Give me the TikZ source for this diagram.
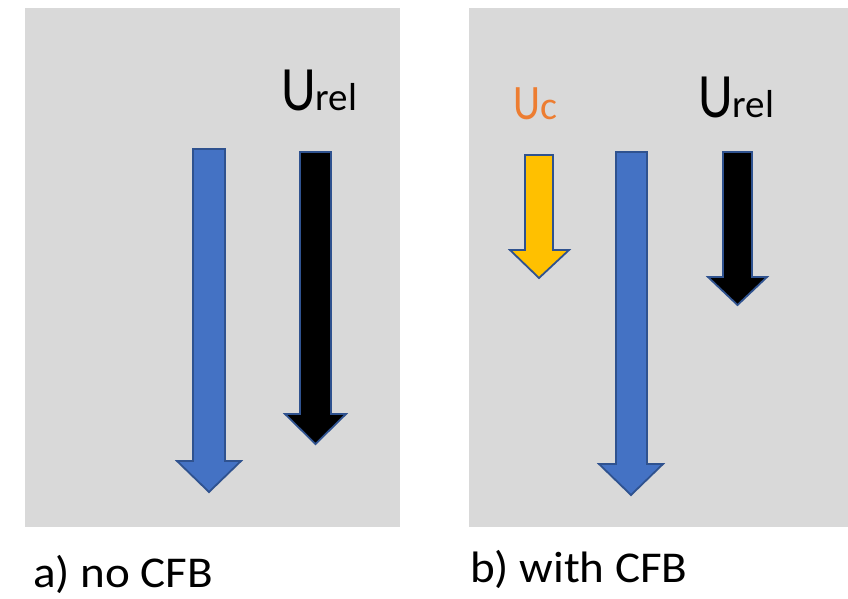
\documentclass[tikz,border=0pt]{standalone}
\usepackage{graphicx}
\usepackage{fontspec}
\setmainfont{Carlito}
\definecolor{panelgray}{HTML}{D9D9D9}
\definecolor{arrblue}{HTML}{4472C4}
\definecolor{arredge}{HTML}{2F528F}
\definecolor{arryellow}{HTML}{FFC000}
\definecolor{txtorange}{HTML}{ED7D31}
\begin{document}
\begin{tikzpicture}[x=1pt,y=-1pt,
  panel/.style={fill=panelgray,draw=none},
  blockarrow/.style={draw=arredge,line width=1.8pt,line join=miter},
  lbl/.style={anchor=base west,inner sep=0pt,outer sep=0pt}]
\useasboundingbox (0,0) rectangle (848,598);
\fill[white] (0,0) rectangle (848,598);
% panels
\path[panel] (25,8) rectangle (400,527);
\path[panel] (469,8) rectangle (848,527);
% panel a arrows
\path[blockarrow,fill=arrblue] (193,149) -- (225,149) -- (225,461) -- (241,461) -- (209,492) -- (177,461) -- (193,461) -- cycle;
\path[blockarrow,fill=black] (300,152) -- (331,152) -- (331,414) -- (346,414) -- (315.5,444) -- (285,414) -- (300,414) -- cycle;
% panel b arrows
\path[blockarrow,fill=arryellow] (525,155) -- (553,155) -- (553,250) -- (569,250) -- (539,278) -- (510,250) -- (525,250) -- cycle;
\path[blockarrow,fill=arrblue] (616,152) -- (647,152) -- (647,464) -- (663,464) -- (631,495) -- (599,464) -- (616,464) -- cycle;
\path[blockarrow,fill=black] (723,152) -- (752,152) -- (752,277) -- (767,277) -- (737.5,305) -- (708,277) -- (723,277) -- cycle;
% labels
\node[lbl] (urela) at (281,110) {\fontsize{54}{54}\selectfont\scalebox{1}[1.17]{U}\fontsize{39}{39}\selectfont rel};
\node[lbl] (urelb) at (698,117) {\fontsize{54}{54}\selectfont\scalebox{1}[1.17]{U}\fontsize{39}{39}\selectfont rel};
\node[lbl,text=txtorange] (uc) at (513.5,119) {\fontsize{42}{42}\selectfont\scalebox{1}[1.18]{U}\fontsize{40}{40}\selectfont c};
\node[lbl] (capa) at (33,587) {\fontsize{44}{44}\selectfont\scalebox{1.07}[1]{a) no CFB}};
\node[lbl] (capb) at (470,582) {\fontsize{44}{44}\selectfont\scalebox{1.07}[1]{b) with CFB}};
\end{tikzpicture}
\end{document}
